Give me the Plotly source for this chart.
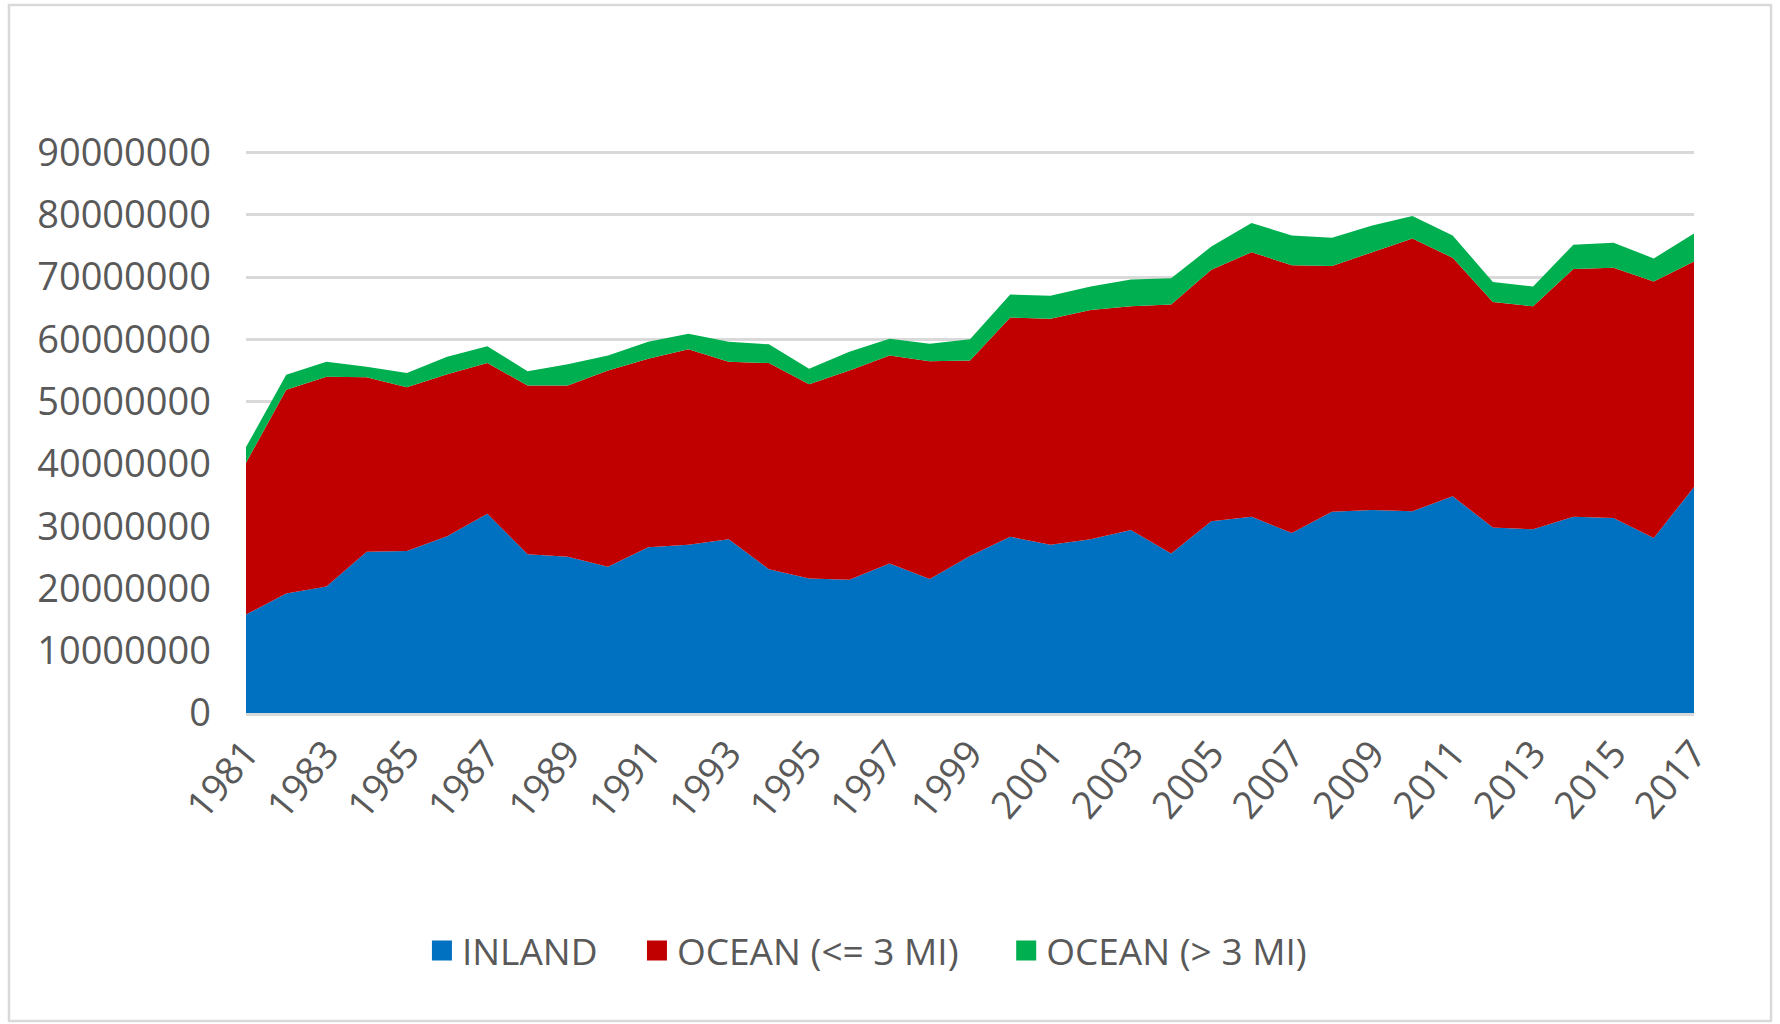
import plotly.graph_objects as go

years = list(range(1981, 2018))
tick_years = list(range(1981, 2018, 2))
tick_labels = [str(y) for y in tick_years]
y_ticks = [0, 10000000, 20000000, 30000000, 40000000, 50000000, 60000000, 70000000, 80000000, 90000000]

# values in millions
inland_m = [15.8, 19.2, 20.3, 25.9, 26.0, 28.4, 32.0, 25.5, 25.1, 23.5, 26.6, 27.0, 27.9,
            23.1, 21.6, 21.4, 24.0, 21.5, 25.2, 28.3, 27.0, 27.9, 29.4, 25.6, 30.8, 31.5,
            28.9, 32.3, 32.6, 32.4, 34.8, 29.8, 29.5, 31.5, 31.3, 28.1, 36.3]
ocean_le3_m = [24.4, 32.7, 33.7, 28.0, 26.3, 26.0, 24.2, 27.1, 27.5, 31.5, 30.3, 31.4, 28.5,
               33.1, 31.2, 33.6, 33.4, 35.0, 31.4, 35.2, 36.3, 36.8, 35.9, 40.0, 40.4, 42.5,
               43.0, 39.5, 41.4, 43.8, 38.3, 36.2, 35.8, 39.8, 40.2, 41.2, 36.2]
ocean_gt3_m = [2.5, 2.4, 2.4, 1.7, 2.3, 2.8, 2.7, 2.3, 3.4, 2.4, 2.7, 2.5, 3.2,
               3.0, 2.5, 3.0, 2.7, 2.8, 3.4, 3.7, 3.7, 3.8, 4.3, 4.2, 3.7, 4.7,
               4.8, 4.5, 4.3, 3.6, 3.6, 3.2, 3.2, 3.9, 4.0, 3.7, 4.5]

series_names = ["INLAND", "OCEAN (<= 3 MI)", "OCEAN (> 3 MI)"]
series_colors = ["#0070C0", "#C00000", "#00B050"]
series_values = [inland_m, ocean_le3_m, ocean_gt3_m]
legend_ids = ["legend", "legend2", "legend3"]
legend_x = [0.1215, 0.270, 0.525]

FONT = "Open Sans"
TXT = "#595959"
GRID = "#D9D9D9"
FS = 38
FS_LEG = 37

fig = go.Figure()
for name, color, vals in zip(series_names, series_colors, series_values):
    fig.add_trace(go.Scatter(
        x=years, y=[v * 1e6 for v in vals], name=name, mode="lines",
        stackgroup="one", line=dict(width=0, color=color), fillcolor=color,
        showlegend=False,
    ))
# legend entries as square markers, each in its own legend box
for name, color, lid in zip(series_names, series_colors, legend_ids):
    fig.add_trace(go.Scatter(
        x=[None], y=[None], name=name, mode="markers", legend=lid,
        marker=dict(symbol="square", size=22, color=color, line=dict(color=color, width=4)),
        showlegend=True,
    ))

legend_common = dict(orientation="h", xanchor="left", y=-0.4235, yanchor="middle",
                     font=dict(family=FONT, size=FS_LEG, color=TXT), itemwidth=30,
                     bgcolor="rgba(0,0,0,0)")
fig.update_layout(
    width=1780, height=1024,
    margin=dict(l=246, r=86, t=151, b=311),
    paper_bgcolor="white", plot_bgcolor="white",
    font=dict(family=FONT, size=FS, color=TXT),
    legend=dict(x=legend_x[0], **legend_common),
    legend2=dict(x=legend_x[1], **legend_common),
    legend3=dict(x=legend_x[2], **legend_common),
    shapes=[dict(type="rect", xref="paper", yref="paper",
                 x0=-0.1637, x1=1.0532, y0=-0.548, y1=1.260,
                 line=dict(color=GRID, width=2.5), fillcolor="rgba(0,0,0,0)", layer="below")],
)
fig.update_xaxes(
    range=[1981, 2017], tickmode="array", tickvals=tick_years, ticktext=tick_labels,
    tickangle=-50, showgrid=False, zeroline=False, showline=True,
    linecolor=GRID, linewidth=2.5, ticks="", tickfont=dict(size=FS, color=TXT),
)
fig.update_yaxes(
    range=[0, 90250000], tickmode="array", tickvals=y_ticks, tickformat="d",
    showgrid=True, gridcolor=GRID, gridwidth=2.5, zeroline=False, showline=False,
    ticks="", ticklabelstandoff=34, tickfont=dict(size=FS, color=TXT),
)

fig.write_html("out.html", config={"displayModeBar": False},
               post_script="document.body.style.margin='0';document.body.style.padding='0';")
